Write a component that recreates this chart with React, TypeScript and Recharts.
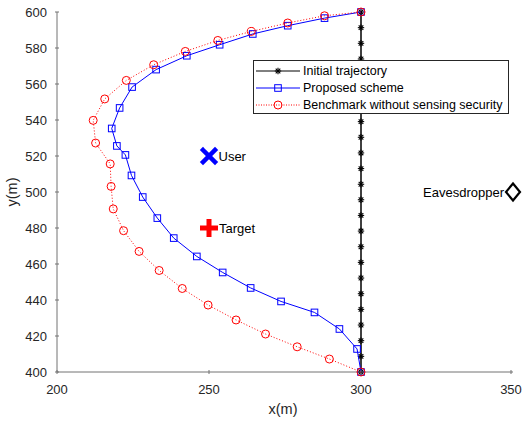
import React from "react";
import {
  Scatter,
  ScatterChart,
  XAxis,
  YAxis,
} from "recharts";

// trajectories, x(m) / y(m), start at (300,400) and end at (300,600)
const initialX = [
  300, 300, 300, 300, 300, 300, 300, 300, 300, 300, 300, 300,
  300, 300, 300, 300, 300, 300, 300, 300, 300, 300, 300, 300,
];
const initialY = [
  400, 408.7, 417.4, 426.1, 434.8, 443.5, 452.2, 460.9, 469.6, 478.3, 487, 495.7,
  504.3, 513, 521.7, 530.4, 539.1, 547.8, 556.5, 565.2, 573.9, 582.6, 591.3, 600,
];
const proposedX = [
  300, 298.7, 292.9, 284.7, 273.7, 263.7, 254.5, 246, 238.4, 233, 228.2, 224.5,
  222.5, 219.7, 218, 220.6, 224.7, 232.6, 242.7, 253.5, 264.4, 275.9, 288, 300,
];
const proposedY = [
  400, 412.8, 423.9, 433.1, 439.2, 446.7, 455.3, 464.2, 474.4, 485.5, 497.2, 509.2,
  520.6, 525.6, 535.3, 546.7, 558.3, 568, 575.7, 581.8, 587.8, 592.4, 596.6, 600,
];
const benchX = [
  300, 289.6, 279, 268.6, 258.9, 249.7, 241.2, 233.6, 227, 221.9, 218.5, 217.8,
  217.5, 212.7, 211.9, 215.7, 222.8, 231.8, 242.2, 252.9, 263.9, 275.9, 288, 300,
];
const benchY = [
  400, 407.2, 414, 421.1, 428.9, 437.2, 446.4, 456.4, 467, 478.5, 490.6, 503.1,
  515.6, 527.2, 539.8, 551.7, 562, 570.7, 578.1, 584.2, 589.2, 593.9, 597.9, 600,
];

const userPos = { x: 250, y: 520 };
const targetPos = { x: 250, y: 480 };
const eavesPos = { x: 350, y: 500 };

const xTicks = [200, 250, 300, 350];
const yTicks = [400, 420, 440, 460, 480, 500, 520, 540, 560, 580, 600];

const seriesNames = [
  "Initial trajectory",
  "Proposed scheme",
  "Benchmark without sensing security",
];

const zip = (xs: number[], ys: number[]) => xs.map((x, i) => ({ x, y: ys[i] }));

const FONT = "'Liberation Sans', Arial, Helvetica, sans-serif";
const TEXT = "#262626";
const AXIS = "#727272";

function Star({ cx, cy, s = 3.2 }: { cx: number; cy: number; s?: number }) {
  const d = s * 0.72;
  return (
    <g stroke="#000" strokeWidth={1.1}>
      <line x1={cx - s} y1={cy} x2={cx + s} y2={cy} />
      <line x1={cx} y1={cy - s} x2={cx} y2={cy + s} />
      <line x1={cx - d} y1={cy - d} x2={cx + d} y2={cy + d} />
      <line x1={cx - d} y1={cy + d} x2={cx + d} y2={cy - d} />
    </g>
  );
}

function Square({ cx, cy }: { cx: number; cy: number }) {
  return (
    <rect x={cx - 3.3} y={cy - 3.3} width={6.6} height={6.6} fill="none" stroke="#0000ff" strokeWidth={1} />
  );
}

function Circle({ cx, cy }: { cx: number; cy: number }) {
  return <circle cx={cx} cy={cy} r={4} fill="none" stroke="#ff0000" strokeWidth={1} />;
}

function XTick(props: any) {
  const { x, y, payload } = props;
  return (
    <g>
      <line x1={x} y1={y} x2={x} y2={y - 4} stroke={AXIS} strokeWidth={1} />
      <text x={x} y={y + 20} textAnchor="middle" fontSize={13} fill={TEXT} fontFamily={FONT}>
        {payload.value}
      </text>
    </g>
  );
}

function YTick(props: any) {
  const { x, y, payload } = props;
  return (
    <g>
      <line x1={x} y1={y} x2={x + 4} y2={y} stroke={AXIS} strokeWidth={1} />
      <text x={x - 8} y={y + 4.5} textAnchor="end" fontSize={13} fill={TEXT} fontFamily={FONT}>
        {payload.value}
      </text>
    </g>
  );
}

function LegendBox() {
  const rows = [
    { name: seriesNames[0], color: "#000", dash: undefined, mark: <Star cx={22} cy={6} /> },
    { name: seriesNames[1], color: "#0000ff", dash: undefined, mark: <Square cx={22} cy={6} /> },
    { name: seriesNames[2], color: "#ff0000", dash: "1 1.5", mark: <Circle cx={22} cy={6} /> },
  ];
  return (
    <div
      style={{
        position: "absolute",
        left: 253,
        top: 60,
        width: 256,
        height: 54,
        border: "1px solid #262626",
        background: "#fff",
        fontFamily: FONT,
        fontSize: 12.5,
        color: "#000",
        paddingTop: 1,
        boxSizing: "border-box",
      }}
    >
      {rows.map((r) => (
        <div key={r.name} style={{ display: "flex", alignItems: "center", height: 17 }}>
          <svg width={44} height={12} style={{ marginLeft: 2, flex: "none" }}>
            <line x1={0} y1={6} x2={44} y2={6} stroke={r.color} strokeWidth={1} strokeDasharray={r.dash} />
            {r.mark}
          </svg>
          <span style={{ marginLeft: 3, whiteSpace: "nowrap" }}>{r.name}</span>
        </div>
      ))}
    </div>
  );
}

export default function App() {
  return (
    <div style={{ position: "absolute", left: 0, top: 0, width: 523, height: 422, background: "#fff" }}>
      <ScatterChart width={523} height={422} margin={{ top: 12, right: 10, left: 0, bottom: 0 }}>
        <XAxis
          type="number"
          dataKey="x"
          domain={[200, 350]}
          ticks={xTicks}
          tick={<XTick />}
          tickLine={false}
          tickSize={0}
          height={50}
          stroke={AXIS}
        />
        <YAxis
          type="number"
          dataKey="y"
          domain={[400, 600]}
          ticks={yTicks}
          tick={<YTick />}
          tickLine={false}
          tickSize={0}
          width={57}
          stroke={AXIS}
        />
        <Scatter
          name={seriesNames[0]}
          data={zip(initialX, initialY)}
          line={{ stroke: "#000", strokeWidth: 1.5 }}
          lineType="joint"
          shape={(p: any) => <Star cx={p.cx} cy={p.cy} />}
          isAnimationActive={false}
        />
        <Scatter
          name={seriesNames[1]}
          data={zip(proposedX, proposedY)}
          line={{ stroke: "#0000ff", strokeWidth: 1 }}
          lineType="joint"
          shape={(p: any) => <Square cx={p.cx} cy={p.cy} />}
          isAnimationActive={false}
        />
        <Scatter
          name={seriesNames[2]}
          data={zip(benchX, benchY)}
          line={{ stroke: "#ff0000", strokeWidth: 1, strokeDasharray: "1 2" }}
          lineType="joint"
          shape={(p: any) => <Circle cx={p.cx} cy={p.cy} />}
          isAnimationActive={false}
        />
        <Scatter
          name="User"
          data={[userPos]}
          isAnimationActive={false}
          shape={(p: any) => (
            <g>
              <g stroke="#0000ff" strokeWidth={4.5} strokeLinecap="square">
                <line x1={p.cx - 6} y1={p.cy - 6} x2={p.cx + 6} y2={p.cy + 6} />
                <line x1={p.cx - 6} y1={p.cy + 6} x2={p.cx + 6} y2={p.cy - 6} />
              </g>
              <text x={p.cx + 9.5} y={p.cy + 4.5} fontSize={13} fontFamily={FONT} fill="#000">User</text>
            </g>
          )}
        />
        <Scatter
          name="Target"
          data={[targetPos]}
          isAnimationActive={false}
          shape={(p: any) => (
            <g>
              <g stroke="#ff0000" strokeWidth={5}>
                <line x1={p.cx - 9} y1={p.cy} x2={p.cx + 9} y2={p.cy} />
                <line x1={p.cx} y1={p.cy - 9} x2={p.cx} y2={p.cy + 9} />
              </g>
              <text x={p.cx + 10} y={p.cy + 4.5} fontSize={13} fontFamily={FONT} fill="#000">Target</text>
            </g>
          )}
        />
        <Scatter
          name="Eavesdropper"
          data={[eavesPos]}
          isAnimationActive={false}
          shape={(p: any) => (
            <g>
              <polygon
                points={`${p.cx},${p.cy - 8.5} ${p.cx + 7},${p.cy} ${p.cx},${p.cy + 8.5} ${p.cx - 7},${p.cy}`}
                fill="none"
                stroke="#000"
                strokeWidth={2.2}
              />
              <text x={p.cx - 9} y={p.cy + 4.5} textAnchor="end" fontSize={13} fontFamily={FONT} fill="#000">
                Eavesdropper
              </text>
            </g>
          )}
        />
        <text x={283} y={414} textAnchor="middle" fontSize={14.5} fontFamily={FONT} fill={TEXT}>
          x(m)
        </text>
        <text
          x={17}
          y={192}
          textAnchor="middle"
          fontSize={14.5}
          fontFamily={FONT}
          fill={TEXT}
          transform="rotate(-90 17 192)"
        >
          y(m)
        </text>
      </ScatterChart>
      <LegendBox />
    </div>
  );
}
